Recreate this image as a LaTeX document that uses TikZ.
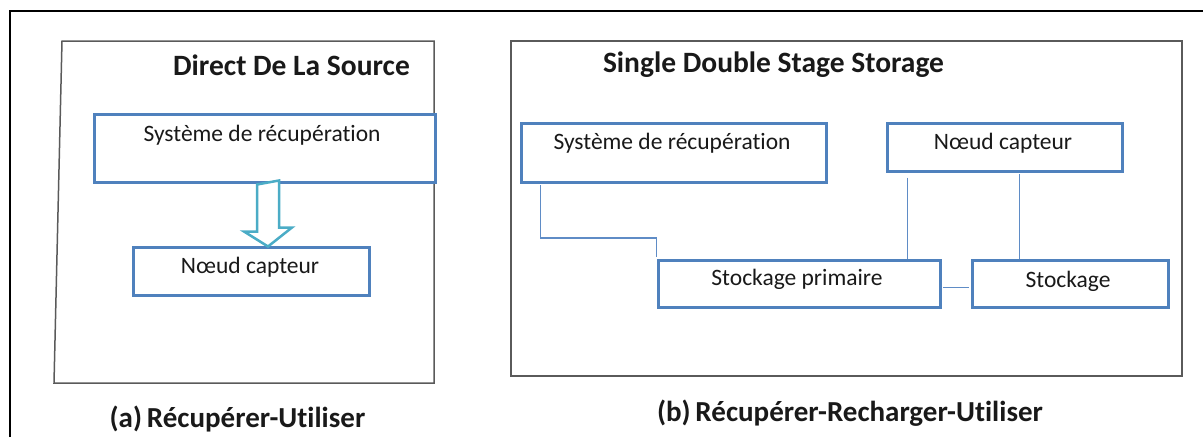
\documentclass[tikz,border=0pt]{standalone}
\usepackage{fontspec}
\setmainfont{Carlito}[RawFeature=-liga]
\usetikzlibrary{calc}
\definecolor{boxblue}{RGB}{79,129,189}
\definecolor{linkblue}{RGB}{95,140,198}
\definecolor{arrowteal}{RGB}{75,172,198}
\definecolor{framegray}{RGB}{90,90,90}
\definecolor{ink}{RGB}{25,25,25}
\tikzset{
  unitbox/.style={draw=boxblue, line width=3pt, fill=white, inner sep=0pt},
  boxtext/.style={text=ink, font=\fontsize{23.5}{28}\selectfont, inner sep=0pt},
  heading/.style={text=ink, font=\bfseries\fontsize{29.5}{34}\selectfont, inner sep=0pt},
  caption/.style={text=ink, font=\bfseries\fontsize{29}{34}\selectfont, inner sep=0pt},
  link/.style={draw=linkblue, line width=1.3pt},
  panel/.style={draw=framegray, line width=1.5pt},
  hollowarrow/.style={draw=arrowteal, line width=2.5pt, fill=white, line join=miter},
}
\begin{document}
\begin{tikzpicture}[x=1pt, y=-1pt]
\useasboundingbox (0,0) rectangle (1203,437);

% outer frame (open on the right and at the bottom)
\draw[line width=2.2pt, black] (10,437) -- (10,11) -- (1210,11);

% ---------- (a) harvest-use ----------
\draw[panel] (62,41) -- (434,41) -- (434,383) -- (54,383) -- cycle;
\node[heading] (titleA) at (291.5,65) {Direct De La Source};

\node[unitbox, minimum width=341pt, minimum height=68pt] (sysA) at (264.5,148) {};
\node[boxtext] (sysAtxt) at (262,135) {Système de récupération};

\node[unitbox, minimum width=236pt, minimum height=48pt] (capA) at (251,271) {};
\node[boxtext] (capAtxt) at (250,267) {Nœud capteur};

% hollow block arrow from the harvester down to the sensor node
\coordinate (arrtop) at ($(sysA.south)+(3.5,1)$);
\draw[hollowarrow] (arrtop) ++(-11,0) -- ++(0,47) -- ++(-13,0)
  -- ($(arrtop |- capA.north)+(0,1)$) -- ++(24,-19) -- ++(-13,0) -- ++(0,-47) -- cycle;

\node[caption] (capTxtA) at (237.5,419) {(a)\,Récupérer-Utiliser};

% ---------- (b) harvest-store-use ----------
\draw[panel] (511,41) rectangle (1182,376);
\node[heading] (titleB) at (773.5,65) {Single Double Stage Storage};

\node[unitbox, minimum width=305pt, minimum height=59pt] (sysB) at (673.5,152.5) {};
\node[boxtext] (sysBtxt) at (672,143) {Système de récupération};

\node[unitbox, minimum width=235pt, minimum height=48pt] (capB) at (1004.5,147) {};
\node[boxtext] (capBtxt) at (1003,143) {Nœud capteur};

\node[unitbox, minimum width=282pt, minimum height=47pt] (primB) at (799,283.5) {};
\node[boxtext] (primBtxt) at (797,279) {Stockage primaire};

\node[unitbox, minimum width=196pt, minimum height=47pt] (stoB) at (1070,283.5) {};
\node[boxtext] (stoBtxt) at (1068,281) {Stockage};

% thin connectors
\draw[link] ($(sysB.south west)+(21,1.5)$) -- ++(0,53) -| ($(primB.north west)+(0,-1.5)$);
\draw[link] ($(capB.south west)+(22,5)$) coordinate (c1) -- (c1 |- primB.north);
\draw[link] ($(capB.south west)+(134,1.5)$) coordinate (c2) -- (c2 |- stoB.north);
\draw[link] ($(primB.east)+(1.5,4)$) -- ($(stoB.west)+(-1.5,4)$);

\node[caption] (capTxtB) at (850,413) {(b)\,Récupérer-Recharger-Utiliser};
\end{tikzpicture}
\end{document}
